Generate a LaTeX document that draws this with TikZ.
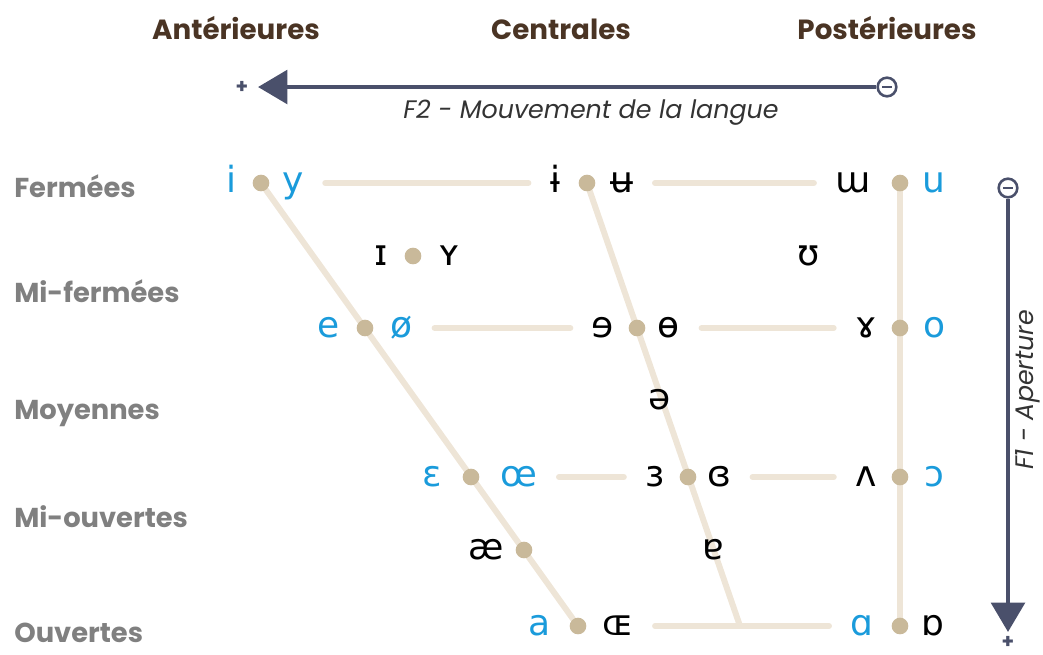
\documentclass[tikz,border=0pt]{standalone}
\usepackage{fontspec}
\setmainfont{Poppins}
\newfontfamily\ipa{DejaVu Sans}
\usetikzlibrary{arrows.meta,backgrounds}
\definecolor{brun}{HTML}{4A3424}
\definecolor{gris}{HTML}{808080}
\definecolor{ardoise}{HTML}{4A506B}
\definecolor{bleu}{HTML}{1A9BDB}
\definecolor{beige}{HTML}{EEE5D7}
\definecolor{sable}{HTML}{C9B99A}
\definecolor{encre}{HTML}{333333}
\tikzset{
    rond/.style={circle, fill=sable, inner sep=0pt, minimum size=12.5pt},
    fr/.style={text=bleu, font=\ipa\fontsize{27pt}{27pt}\selectfont, inner sep=0pt, text height=14.7pt, text depth=0pt},
    autre/.style={fr, text=black},
    ligne/.style={draw=beige, line width=4.5pt, line cap=round},
    raccourci/.style={shorten <=16pt, shorten >=16pt},
    rang/.style={anchor=west, text=gris, font=\bfseries\fontsize{20.5pt}{22pt}\selectfont, inner sep=0pt, text height=14.3pt, text depth=0pt},
    colonne/.style={text=brun, font=\bfseries\fontsize{20.8pt}{22pt}\selectfont, inner sep=0pt, text height=14.5pt, text depth=0pt},
    axe/.style={draw=ardoise, line width=3.5pt, -{Triangle[length=22pt, width=25pt]}},
    axetexte/.style={text=encre, font=\itshape\fontsize{19pt}{20pt}\selectfont, inner sep=0pt},
    signe/.style={text=ardoise, font=\bfseries\fontsize{15pt}{15pt}\selectfont, inner sep=0pt},
    moins/.style={circle, draw=ardoise, fill=white, line width=1.9pt, minimum size=14pt, inner sep=0pt,
        path picture={\draw[ardoise, line width=1.9pt] ([xshift=-3.6pt]path picture bounding box.center) -- ([xshift=3.6pt]path picture bounding box.center);}},
}
\begin{document}
\begin{tikzpicture}[x=0.75pt, y=-0.75pt]
            \def\rA{183}
            \def\rB{256}
            \def\rC{328}
            \def\rD{400}
            \def\rE{477}
            \def\rF{550}
            \def\rG{626}
            \useasboundingbox (0,0) rectangle (1043,654);

            \node[colonne] (ant) at (236,30) {Antérieures};
            \node[colonne] (cen) at (561,30) {Centrales};
            \node[colonne] (post) at (887,30) {Postérieures};

            \node[rang] (ferm) at (14,188) {Fermées};
            \node[rang] (miferm) at (14,293) {Mi-fermées};
            \node[rang] (moy) at (14,410) {Moyennes};
            \node[rang] (miouv) at (14,518) {Mi-ouvertes};
            \node[rang] (ouv) at (14,633) {Ouvertes};

            \node[moins] (f2moins) at (887,87) {};
            \coordinate (f2bout) at (258,87);
            \node[signe] (f2plus) at (242,87) {+};
            \draw[axe] (f2moins) -- (f2bout);
            \node[axetexte] (f2) at (591,113) {F2 - Mouvement de la langue};

            \node[moins] (f1moins) at (1008,188) {};
            \coordinate (f1bout) at (1008,632);
            \node[signe] (f1plus) at (1008,642) {+};
            \draw[axe] (f1moins) -- (f1bout);
            \node[axetexte, rotate=90] (f1) at (1028,390) {F1 - Aperture};

            \node[rond] (dA1) at (261,\rA) {};
            \node[rond] (dC1) at (587,\rA) {};
            \node[rond] (dP1) at (900,\rA) {};
            \node[rond] (dI) at (413,\rB) {};
            \node[rond] (dA3) at (365,\rC) {};
            \node[rond] (dC3) at (637,\rC) {};
            \node[rond] (dP3) at (900,\rC) {};
            \node[rond] (dA5) at (471,\rE) {};
            \node[rond] (dC5) at (688,\rE) {};
            \node[rond] (dP5) at (900,\rE) {};
            \node[rond] (dA6) at (524,\rF) {};
            \node[rond] (dA7) at (578,\rG) {};
            \node[rond] (dP7) at (900,\rG) {};
            \coordinate (jonction) at (740,\rG);

            \node[fr] (i) at (231,\rA) {i};
            \node[fr] (y) at (293,\rA) {y};
            \node[autre] (ibar) at (555,\rA) {ɨ};
            \node[autre] (ubar) at (622,\rA) {ʉ};
            \node[autre] (turnm) at (853,\rA) {ɯ};
            \node[fr] (u) at (934,\rA) {u};

            \node[autre] (smallI) at (381,\rB) {ɪ};
            \node[autre] (smallY) at (449,\rB) {ʏ};
            \node[autre] (upsilon) at (809,\rB) {ʊ};

            \node[fr] (e) at (329,\rC) {e};
            \node[fr] (oslash) at (402,\rC) {ø};
            \node[autre] (reve) at (603,\rC) {ɘ};
            \node[autre] (baro) at (669,\rC) {ɵ};
            \node[autre] (ramsh) at (866,\rC) {ɤ};
            \node[fr] (o) at (935,\rC) {o};

            \node[autre] (schwa) at (660,\rD) {ə};

            \node[fr] (epsi) at (432,\rE) {ɛ};
            \node[fr] (oeu) at (519,\rE) {œ};
            \node[autre] (revepsi) at (655,\rE) {ɜ};
            \node[autre] (closedrev) at (719,\rE) {ɞ};
            \node[autre] (turnv) at (866,\rE) {ʌ};
            \node[fr] (openo) at (934,\rE) {ɔ};

            \node[autre] (ash) at (486,\rF) {æ};
            \node[autre] (turna) at (713,\rF) {ɐ};

            \node[fr] (a) at (540,\rG) {a};
            \node[autre] (smalloe) at (618,\rG) {ɶ};
            \node[fr] (alpha) at (862,\rG) {ɑ};
            \node[autre] (turnalpha) at (933,\rG) {ɒ};

            \begin{scope}[on background layer]
            \draw[ligne] (dA1) -- (dA7);
            \draw[ligne] (dC1) -- (jonction);
            \draw[ligne] (dP1) -- (dP7);
            \draw[ligne, raccourci] (y) -- (ibar);
            \draw[ligne, raccourci] (ubar) -- (turnm);
            \draw[ligne, raccourci] (oslash) -- (reve);
            \draw[ligne, raccourci] (baro) -- (ramsh);
            \draw[ligne, raccourci] (oeu) -- (revepsi);
            \draw[ligne, raccourci] (closedrev) -- (turnv);
            \draw[ligne, raccourci] (smalloe) -- (alpha);
            \end{scope}
\end{tikzpicture}
\end{document}
